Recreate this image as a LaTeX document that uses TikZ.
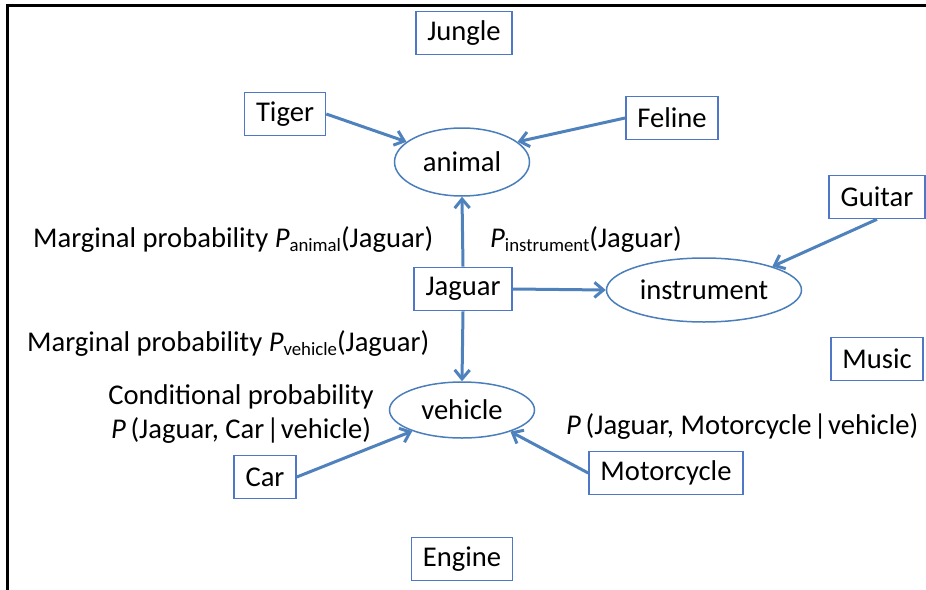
\documentclass[tikz,border=0pt]{standalone}
\usepackage{fontspec}
\setmainfont{Carlito}
\usetikzlibrary{arrows.meta,shapes.geometric}
\definecolor{boxblue}{HTML}{4F77C8}
\definecolor{arrblue}{HTML}{4F81BD}
\definecolor{ellblue}{HTML}{4A7EBB}
\newcommand{\sbs}[1]{\raisebox{-0.32ex}{\fontsize{18.8}{19}\selectfont #1}}
\begin{document}
\begin{tikzpicture}[x=1pt,y=-1pt,
  every node/.style={font=\fontsize{28.6}{34}\selectfont, text=black},
  wbox/.style={draw=boxblue, line width=1.6pt, fill=white, inner xsep=11.5pt, inner ysep=0pt, minimum height=43pt},
  concept/.style={ellipse, draw=ellblue, line width=1.5pt, inner sep=0pt},
  lbl/.style={inner sep=0pt},
  conn/.style={draw=arrblue, line width=3pt, -{Straight Barb[length=9pt,width=15pt]}}
]
\useasboundingbox (0,0) rectangle (926,589);
\draw[line width=2.5pt, line cap=rect] (7.5,589) -- (7.5,5.5) -- (926,5.5);

\node[wbox] (jungle) at (464,33) {Jungle};
\node[wbox] (tiger) at (285,114) {Tiger};
\node[wbox] (feline) at (672,118) {Feline};
\node[wbox] (guitar) at (877,197) {Guitar};
\node[wbox] (jaguar) at (463,289) {Jaguar};
\node[wbox] (music) at (877,359) {Music};
\node[wbox] (car) at (265,477) {Car};
\node[wbox] (moto) at (666,473) {Motorcycle};
\node[wbox] (engine) at (462,559) {Engine};

\node[concept, minimum width=135pt, minimum height=68pt] (animal) at (462,162) {animal};
\node[concept, minimum width=195pt, minimum height=64pt] (instr) at (704,290) {instrument};
\node[concept, minimum width=145pt, minimum height=56pt] (vehicle) at (462,410) {vehicle};

\node[lbl, anchor=west] (lanimal) at (33,239) {Marginal probability \textit{P}\sbs{animal}(Jaguar)};
\node[lbl, anchor=west] (linstr) at (490,239) {\textit{P}\sbs{instrument}(Jaguar)};
\node[lbl, anchor=west] (lvehicle) at (27,343) {Marginal probability \textit{P}\sbs{vehicle}(Jaguar)};
\node[lbl, align=center] (lcond) at (241,414) {Conditional probability\\\textit{P}\,(Jaguar, Car\kern2pt|\kern1.5pt vehicle)};
\node[lbl, anchor=west] (lmoto) at (566,426) {\textit{P}\,(Jaguar, Motorcycle\kern2pt|\kern1.5pt vehicle)};

\draw[conn] (tiger.east) -- (animal.160);
\draw[conn] (feline.west) -- (animal.20);
\draw[conn] (guitar.south) -- (instr.19);
\draw[conn] (jaguar.north) -- (animal.south);
\draw[conn] (jaguar.east) -- (instr.west);
\draw[conn] (jaguar.south) -- (vehicle.north);
\draw[conn] (car.east) -- (vehicle.203);
\draw[conn] (moto.west) -- (vehicle.336);
\end{tikzpicture}
\end{document}
